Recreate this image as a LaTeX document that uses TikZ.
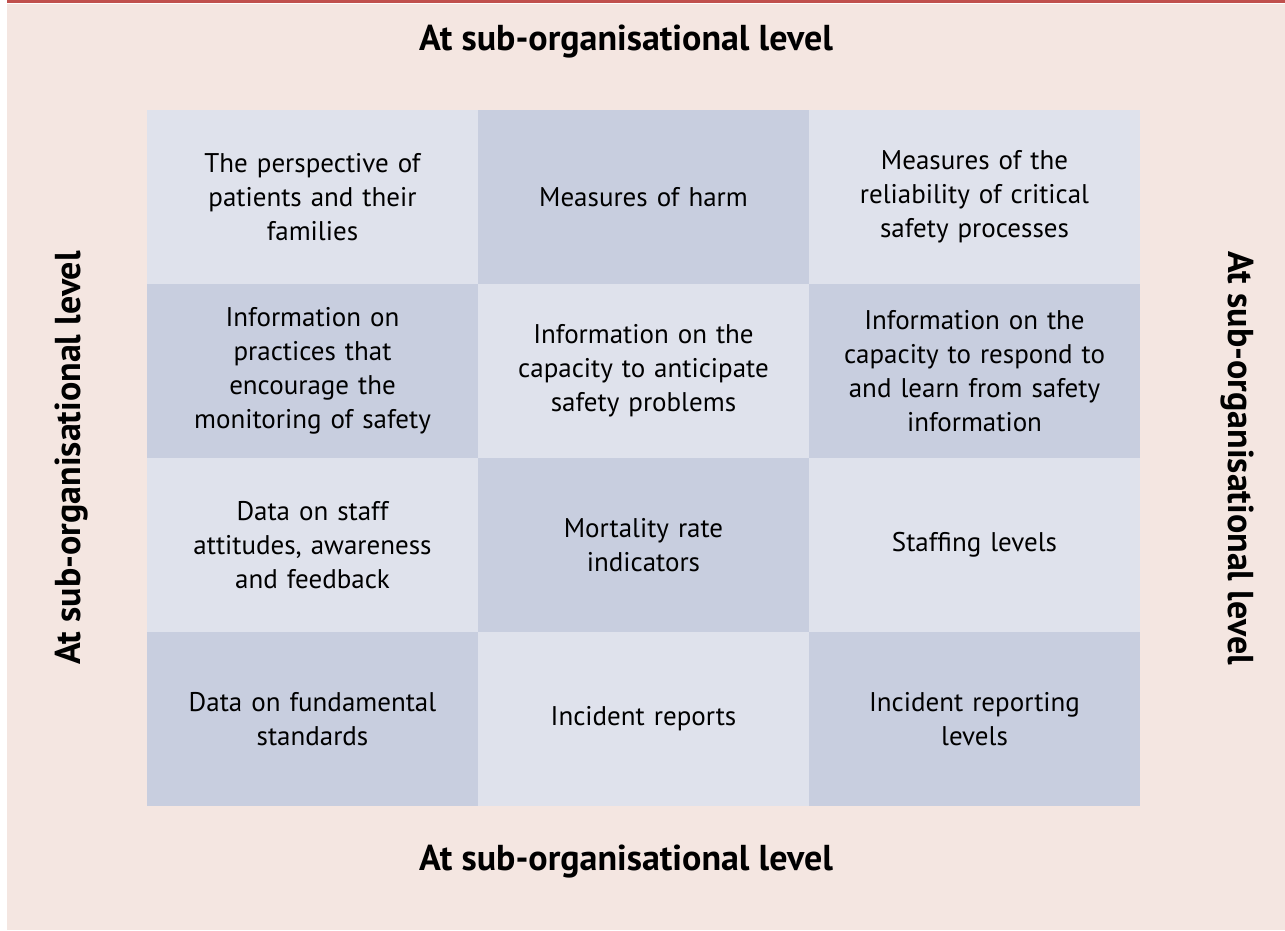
\documentclass[tikz,border=0pt]{standalone}
\usepackage{fontspec}
\setmainfont{PT Sans}
\usepackage{tikz}
\usetikzlibrary{positioning,backgrounds}
\definecolor{bgpink}{RGB}{244,230,225}
\definecolor{topred}{RGB}{192,80,77}
\definecolor{celllight}{RGB}{223,226,236}
\definecolor{celldark}{RGB}{200,206,223}
\tikzstyle{Lcell}=[shape=rectangle,fill=celllight,minimum width=331pt,minimum height=174pt,inner sep=0pt,text width=310pt,align=center,font=\fontsize{27}{34}\selectfont]
\tikzstyle{Dcell}=[Lcell,fill=celldark]
\tikzstyle{leveltitle}=[font=\fontsize{36}{40}\selectfont\bfseries]

\begin{document}
\begin{tikzpicture}[x=1pt,y=-1pt]

\useasboundingbox[fill=white] (0,0) rectangle (1285,930);
\fill[bgpink] (7,3.5) rectangle (1285,930);
\fill[topred] (7,0) rectangle (1285,2.5);

\node at (626,42)  [leveltitle] (TOP) {At sub-organisational level};
\node at (626,862) [leveltitle] (BOTTOM) {At sub-organisational level};
\node at (72,458)  [leveltitle,rotate=90] (LEFT) {At sub-organisational level};
\node at (1237,458) [leveltitle,rotate=-90] (RIGHT) {At sub-organisational level};

% row 1
\node[Lcell] (C11) at (312.5,197){The perspective of\\ patients and their\\ families};
\node[Dcell] (C12) at (643.5,197){Measures of harm};
\node[Lcell] (C13) at (974.5,197){Measures of the\\ reliability of critical\\ safety processes};

% row 2
\node[Dcell] (C21) at (312.5,371){Information on\\ practices that\\ encourage the\\ monitoring of safety};
\node[Lcell] (C22) at (643.5,371){Information on the\\ capacity to anticipate\\ safety problems};
\node[Dcell] (C23) at (974.5,371){Information on the\\ capacity to respond to\\ and learn from safety\\ information};

% row 3
\node[Lcell] (C31) at (312.5,545){Data on staff\\ attitudes, awareness\\ and feedback};
\node[Dcell] (C32) at (643.5,545){Mortality rate\\ indicators};
\node[Lcell] (C33) at (974.5,545){Staffing levels};

% row 4
\node[Dcell] (C41) at (312.5,719){Data on fundamental\\ standards};
\node[Lcell] (C42) at (643.5,719){Incident reports};
\node[Dcell] (C43) at (974.5,719){Incident reporting\\ levels};

\end{tikzpicture}
\end{document}
